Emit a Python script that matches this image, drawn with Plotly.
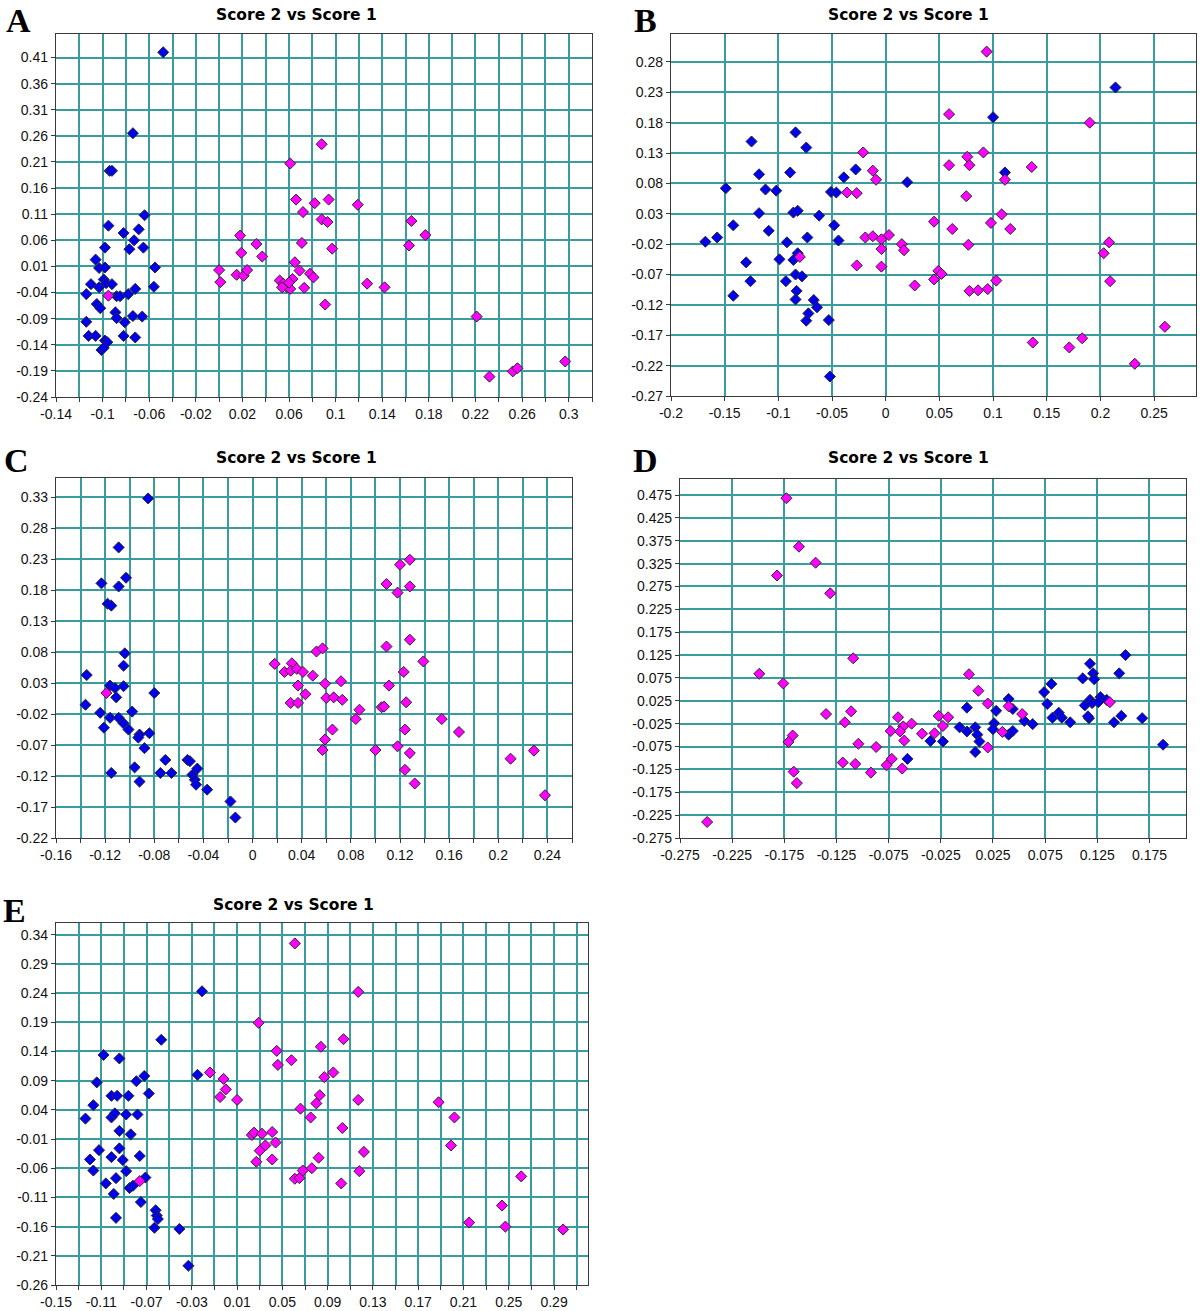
import plotly.graph_objects as go

# ---------------- data (Score 1 = x, Score 2 = y) ----------------
A_blue_x = [-0.048, -0.074, -0.094, -0.092, -0.095, -0.064, -0.082, -0.069, -0.073, -0.077, -0.065, -0.098, -0.055, -0.056, -0.106, -0.103, -0.098, -0.099, -0.097, -0.092, -0.110, -0.103, -0.114, -0.088, -0.085, -0.078, -0.072, -0.105, -0.102, -0.089, -0.088, -0.081, -0.074, -0.066, -0.114, -0.112, -0.106, -0.082, -0.072, -0.098, -0.096, -0.101, -0.099]
A_blue_y = [0.420, 0.265, 0.193, 0.193, 0.088, 0.108, 0.074, 0.081, 0.060, 0.043, 0.046, 0.046, 0.008, -0.029, 0.023, 0.007, 0.008, -0.015, -0.022, -0.024, -0.024, -0.030, -0.043, -0.047, -0.047, -0.043, -0.033, -0.062, -0.070, -0.078, -0.089, -0.097, -0.085, -0.086, -0.096, -0.123, -0.123, -0.123, -0.126, -0.132, -0.135, -0.150, -0.146]
A_mag_x = [-0.095, 0.000, 0.001, 0.015, 0.021, 0.024, 0.018, 0.019, 0.032, 0.037, 0.061, 0.066, 0.072, 0.082, 0.088, 0.093, 0.094, 0.119, 0.071, 0.097, 0.065, 0.069, 0.078, 0.081, 0.052, 0.055, 0.058, 0.061, 0.063, 0.054, 0.060, 0.073, 0.091, 0.127, 0.142, 0.088, 0.165, 0.177, 0.163, 0.221, 0.232, 0.252, 0.256, 0.297]
A_mag_y = [-0.046, 0.003, -0.020, -0.006, -0.008, 0.003, 0.069, 0.036, 0.053, 0.029, 0.207, 0.138, 0.114, 0.131, 0.100, 0.095, 0.138, 0.128, 0.055, 0.044, 0.018, 0.002, -0.004, -0.011, -0.017, -0.023, -0.030, -0.033, -0.014, -0.030, -0.021, -0.031, -0.063, -0.023, -0.030, 0.244, 0.097, 0.070, 0.050, -0.086, -0.201, -0.191, -0.185, -0.172]

B_blue_x = [-0.168, -0.157, -0.149, -0.142, -0.142, -0.130, -0.126, -0.125, -0.118, -0.118, -0.112, -0.109, -0.102, -0.099, -0.092, -0.093, -0.089, -0.086, -0.082, -0.084, -0.074, -0.086, -0.082, -0.084, -0.078, -0.083, -0.084, -0.073, -0.067, -0.064, -0.072, -0.074, -0.062, -0.053, -0.052, -0.051, -0.046, -0.048, -0.044, -0.039, -0.028, 0.020, 0.100, 0.111, 0.214]
B_blue_y = [-0.016, -0.009, 0.072, 0.011, -0.105, -0.050, -0.081, 0.149, 0.095, 0.031, 0.070, 0.002, 0.068, -0.045, -0.017, -0.081, 0.098, 0.032, 0.035, 0.164, 0.139, -0.046, -0.035, -0.070, -0.073, -0.097, -0.111, -0.009, -0.112, -0.124, -0.134, -0.146, 0.027, -0.145, -0.238, 0.066, 0.065, 0.011, -0.014, 0.090, 0.103, 0.082, 0.189, 0.098, 0.238]
B_mag_x = [-0.080, -0.036, -0.027, -0.021, -0.012, -0.009, -0.019, -0.012, -0.004, 0.003, -0.004, -0.004, -0.027, 0.015, 0.017, 0.094, 0.059, 0.190, 0.076, 0.091, 0.059, 0.078, 0.136, 0.111, 0.075, 0.108, 0.045, 0.098, 0.062, 0.116, 0.077, 0.208, 0.203, 0.209, 0.049, 0.052, 0.045, 0.027, 0.078, 0.086, 0.095, 0.103, 0.137, 0.171, 0.183, 0.232, 0.260]
B_mag_y = [-0.041, 0.065, 0.064, 0.131, 0.101, 0.086, -0.009, -0.007, -0.012, -0.005, -0.028, -0.057, -0.055, -0.020, -0.030, 0.297, 0.194, 0.180, 0.124, 0.131, 0.110, 0.110, 0.107, 0.086, 0.059, 0.029, 0.017, 0.015, 0.005, 0.005, -0.021, -0.017, -0.035, -0.081, -0.064, -0.069, -0.078, -0.088, -0.097, -0.096, -0.094, -0.080, -0.182, -0.190, -0.175, -0.217, -0.156]

C_blue_x = [-0.085, -0.109, -0.103, -0.123, -0.109, -0.118, -0.115, -0.104, -0.105, -0.135, -0.116, -0.112, -0.105, -0.111, -0.080, -0.136, -0.124, -0.116, -0.121, -0.109, -0.105, -0.101, -0.098, -0.092, -0.093, -0.084, -0.088, -0.096, -0.115, -0.092, -0.071, -0.075, -0.066, -0.053, -0.051, -0.045, -0.049, -0.047, -0.046, -0.037, -0.018, -0.014]
C_blue_y = [0.328, 0.249, 0.200, 0.191, 0.186, 0.158, 0.155, 0.078, 0.058, 0.043, 0.026, 0.022, 0.025, 0.007, 0.014, -0.005, -0.018, -0.026, -0.042, -0.026, -0.035, -0.045, -0.016, -0.053, -0.058, -0.051, -0.075, -0.106, -0.115, -0.129, -0.094, -0.115, -0.115, -0.094, -0.096, -0.108, -0.118, -0.126, -0.134, -0.142, -0.161, -0.187]
C_mag_x = [-0.119, 0.018, 0.026, 0.032, 0.031, 0.036, 0.037, 0.031, 0.037, 0.041, 0.049, 0.043, 0.052, 0.057, 0.059, 0.060, 0.066, 0.073, 0.072, 0.065, 0.059, 0.057, 0.087, 0.084, 0.100, 0.105, 0.107, 0.109, 0.111, 0.109, 0.118, 0.120, 0.128, 0.128, 0.128, 0.123, 0.139, 0.125, 0.124, 0.118, 0.128, 0.124, 0.132, 0.154, 0.168, 0.210, 0.229, 0.238]
C_mag_y = [0.014, 0.061, 0.048, 0.062, 0.050, 0.053, 0.026, -0.002, -0.002, 0.048, 0.042, 0.012, 0.081, 0.086, 0.029, 0.006, 0.007, 0.003, 0.033, -0.045, -0.061, -0.078, -0.013, -0.028, -0.078, -0.009, -0.008, 0.089, 0.026, 0.190, 0.176, 0.221, 0.229, 0.186, 0.100, 0.048, 0.065, -0.001, -0.045, -0.072, -0.083, -0.110, -0.132, -0.028, -0.049, -0.092, -0.079, -0.151]

D_blue_x = [-0.057, -0.035, -0.023, -0.007, 0.000, 0.000, 0.008, 0.010, 0.012, 0.008, 0.028, 0.026, 0.025, 0.040, 0.044, 0.040, 0.044, 0.055, 0.063, 0.074, 0.081, 0.077, 0.082, 0.088, 0.091, 0.099, 0.111, 0.118, 0.121, 0.122, 0.113, 0.118, 0.117, 0.120, 0.128, 0.126, 0.134, 0.141, 0.148, 0.146, 0.152, 0.168, 0.188, 0.116]
D_blue_y = [-0.102, -0.063, -0.064, -0.033, 0.010, -0.042, -0.033, -0.049, -0.064, -0.087, 0.003, -0.024, -0.037, 0.029, 0.007, -0.049, -0.041, -0.019, -0.026, 0.044, 0.062, 0.018, -0.012, -0.001, -0.012, -0.022, 0.074, 0.106, 0.085, 0.072, 0.015, 0.027, -0.013, 0.020, 0.033, 0.022, 0.027, -0.022, -0.008, 0.085, 0.125, -0.013, -0.071, -0.009]
D_mag_x = [-0.173, -0.161, -0.145, -0.182, -0.131, -0.109, -0.199, -0.176, -0.135, -0.111, -0.117, -0.167, -0.171, -0.104, -0.087, -0.119, -0.107, -0.166, -0.163, -0.092, -0.077, -0.072, -0.073, -0.066, -0.249, -0.062, -0.061, -0.053, -0.064, -0.060, -0.043, -0.031, -0.027, -0.023, -0.018, 0.002, 0.011, 0.020, 0.040, 0.053, 0.034, 0.020, 0.137]
D_mag_y = [0.468, 0.362, 0.327, 0.299, 0.260, 0.118, 0.084, 0.063, -0.004, 0.002, -0.022, -0.051, -0.065, -0.069, -0.076, -0.110, -0.113, -0.130, -0.155, -0.132, -0.116, -0.102, -0.041, -0.011, -0.240, -0.123, -0.031, -0.025, -0.042, -0.062, -0.047, -0.046, -0.008, -0.030, -0.011, 0.083, 0.047, 0.019, 0.013, -0.004, -0.043, -0.077, 0.022]

E_blue_x = [-0.124, -0.117, -0.114, -0.108, -0.094, -0.120, -0.117, -0.112, -0.106, -0.099, -0.097, -0.101, -0.096, -0.101, -0.098, -0.094, -0.094, -0.101, -0.091, -0.097, -0.088, -0.088, -0.086, -0.084, -0.085, -0.082, -0.078, -0.079, -0.076, -0.075, -0.072, -0.068, -0.071, -0.057, -0.062, -0.061, -0.060, -0.063, -0.041, -0.033, -0.025, -0.021]
E_blue_y = [0.025, 0.048, 0.087, 0.134, 0.128, -0.045, -0.064, -0.029, -0.086, -0.104, -0.145, 0.064, 0.064, 0.027, 0.034, 0.004, -0.026, -0.041, -0.046, -0.077, -0.065, 0.032, 0.064, -0.002, -0.094, -0.090, 0.032, 0.089, -0.039, -0.118, 0.098, 0.068, -0.076, 0.160, -0.132, -0.141, -0.147, -0.162, -0.164, -0.227, 0.100, 0.243]
E_mag_x = [-0.076, -0.014, -0.002, 0.000, -0.005, 0.010, 0.029, 0.045, 0.046, 0.058, 0.023, 0.025, 0.032, 0.041, 0.044, 0.035, 0.030, 0.027, 0.041, 0.061, 0.066, 0.061, 0.117, 0.104, 0.084, 0.095, 0.087, 0.083, 0.080, 0.075, 0.117, 0.103, 0.082, 0.122, 0.076, 0.068, 0.065, 0.118, 0.102, 0.188, 0.202, 0.199, 0.261, 0.244, 0.247, 0.215, 0.298]
E_mag_y = [-0.082, 0.104, 0.093, 0.075, 0.062, 0.057, 0.189, 0.141, 0.117, 0.125, -0.003, 0.001, -0.001, 0.002, -0.016, -0.021, -0.030, -0.049, -0.045, 0.325, 0.042, -0.078, 0.242, 0.161, 0.148, 0.104, 0.096, 0.065, 0.051, 0.027, 0.057, 0.009, -0.042, -0.032, -0.060, -0.064, -0.077, -0.065, -0.086, 0.053, 0.027, -0.021, -0.074, -0.124, -0.160, -0.153, -0.165]

panel_letters = ["A", "B", "C", "D", "E"]
panel_title = "Score 2 vs Score 1"

# axis tick specs: (start, step, count, label every n-th)
A_xticks = (-0.14, 0.02, 24, 2); A_yticks = (-0.24, 0.05, 14, 1)
B_xticks = (-0.20, 0.05, 10, 1); B_yticks = (-0.27, 0.05, 12, 1)
C_xticks = (-0.16, 0.02, 22, 2); C_yticks = (-0.22, 0.05, 12, 1)
D_xticks = (-0.275, 0.05, 10, 1); D_yticks = (-0.275, 0.05, 16, 1)
E_xticks = (-0.15, 0.02, 24, 2); E_yticks = (-0.26, 0.05, 13, 1)

# ---------------- layout ----------------
W, H = 1200, 1311
BLUE = "#0000EE"
MAGENTA = "#FF00FF"
GRID = "#3A9D9D"

panels = [
    dict(bx=A_blue_x, by=A_blue_y, mx=A_mag_x, my=A_mag_y, box=(56, 34, 592, 397),
         xr=[-0.14, 0.32], yr=[-0.24, 0.455], xt=A_xticks, yt=A_yticks, title=(296, 15), letter=(18, 1)),
    dict(bx=B_blue_x, by=B_blue_y, mx=B_mag_x, my=B_mag_y, box=(671, 34, 1196, 396),
         xr=[-0.20, 0.289], yr=[-0.27, 0.326], xt=B_xticks, yt=B_yticks, title=(909, 15), letter=(645, 1)),
    dict(bx=C_blue_x, by=C_blue_y, mx=C_mag_x, my=C_mag_y, box=(56, 478, 572, 838),
         xr=[-0.16, 0.26], yr=[-0.22, 0.361], xt=C_xticks, yt=C_yticks, title=(296, 458), letter=(16, 441)),
    dict(bx=D_blue_x, by=D_blue_y, mx=D_mag_x, my=D_mag_y, box=(680, 479, 1186, 838),
         xr=[-0.275, 0.21], yr=[-0.275, 0.51], xt=D_xticks, yt=D_yticks, title=(909, 458), letter=(645, 441)),
    dict(bx=E_blue_x, by=E_blue_y, mx=E_mag_x, my=E_mag_y, box=(56, 923, 588, 1285),
         xr=[-0.15, 0.32], yr=[-0.26, 0.36], xt=E_xticks, yt=E_yticks, title=(293, 905), letter=(14, 891)),
]


def make_ticks(spec):
    start, step, n, every = spec
    vals = [round(start + i * step, 4) + 0.0 for i in range(n)]
    text = [f"{v:g}" if i % every == 0 else "" for i, v in enumerate(vals)]
    return vals, text


fig = go.Figure()
annotations = []
layout_axes = {}

for i, p in enumerate(panels):
    sfx = "" if i == 0 else str(i + 1)
    xa, ya = "x" + sfx, "y" + sfx
    for xs, ys, col in ((p["bx"], p["by"], BLUE), (p["mx"], p["my"], MAGENTA)):
        fig.add_trace(go.Scatter(
            x=xs, y=ys, mode="markers", xaxis=xa, yaxis=ya, showlegend=False,
            marker=dict(symbol="diamond", size=8.5, color=col,
                        line=dict(width=1, color="#2a2a2a")),
        ))
    l, t, r, b = p["box"]
    xv, xtxt = make_ticks(p["xt"])
    yv, ytxt = make_ticks(p["yt"])
    common = dict(showgrid=True, gridcolor=GRID, gridwidth=1.8, zeroline=False,
                  showline=True, linecolor="#3a3a3a", linewidth=1.3, mirror=True,
                  ticks="outside", ticklen=4, tickcolor="#3a3a3a", tickangle=0,
                  automargin=False,
                  tickfont=dict(family="Liberation Sans, Arial, sans-serif", size=14, color="#111"))
    layout_axes["xaxis" + sfx] = dict(common, domain=[l / W, r / W], range=p["xr"],
                                      tickvals=xv, ticktext=xtxt, anchor=ya)
    layout_axes["yaxis" + sfx] = dict(common, domain=[1 - b / H, 1 - t / H], range=p["yr"],
                                      tickvals=yv, ticktext=ytxt, anchor=xa)
    tx, ty = p["title"]
    annotations.append(dict(text="<b>" + panel_title + "</b>", x=tx / W, y=1 - ty / H,
                            xref="paper", yref="paper", xanchor="center", yanchor="middle",
                            showarrow=False,
                            font=dict(family="DejaVu Sans, Verdana, sans-serif", size=15.5, color="#000")))
    lx, ly = p["letter"]
    annotations.append(dict(text="<b>" + panel_letters[i] + "</b>", x=lx / W, y=1 - ly / H,
                            xref="paper", yref="paper", xanchor="center", yanchor="top",
                            showarrow=False, borderpad=0,
                            font=dict(family="Liberation Serif, Times New Roman, serif", size=34, color="#000")))

fig.update_layout(
    width=W, height=H, margin=dict(l=0, r=0, t=0, b=0, autoexpand=False),
    paper_bgcolor="white", plot_bgcolor="white",
    annotations=annotations, showlegend=False,
    **layout_axes,
)

fig.write_html("out.html",
               config={"displayModeBar": False},
               post_script="document.body.style.margin='0';document.body.style.padding='0';"
                           "document.body.style.overflow='hidden';")
